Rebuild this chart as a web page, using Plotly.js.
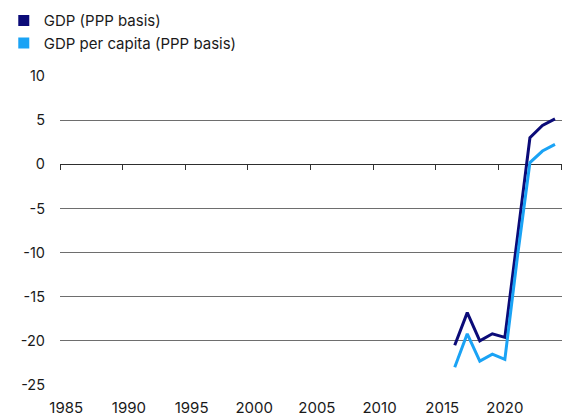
<!DOCTYPE html>
<html>
<head>
<meta charset="utf-8">
<script src="https://cdn.plot.ly/plotly-3.0.1.min.js"></script>
<style>html,body{margin:0;padding:0;background:#fff;}#chart{width:563px;height:417px;}</style>
</head>
<body>
<div id="chart"></div>
<script>
var years = [2016, 2017, 2018, 2019, 2020, 2021, 2022, 2023, 2024];
var gdpPPP = [-20.5, -16.8, -20.0, -19.2, -19.6, -8.5, 3.0, 4.4, 5.15];
var gdpPerCapitaPPP = [-23.0, -19.2, -22.3, -21.5, -22.1, -10.5, 0.2, 1.5, 2.25];
var seriesNames = ['GDP (PPP basis)', 'GDP per capita (PPP basis)'];
var seriesColors = ['#0b0b78', '#1aa3f5'];
var labelYears = [1985, 1990, 1995, 2000, 2005, 2010, 2015, 2020];
var tickBoundaries = [1984.5, 1989.5, 1994.5, 1999.5, 2004.5, 2009.5, 2014.5, 2019.5, 2024.5];
var yTicks = [-25, -20, -15, -10, -5, 0, 5, 10];

var xr = [1984.5, 2024.56];
var yr = [-25, 10];
var fam = 'Inter, "Open Sans", sans-serif';
var legendFont = {family: fam, size: 15, color: '#1a1a1a'};
var xFont = {family: fam, size: 15, color: '#1a1a1a'};
var yFont = {family: fam, size: 14.5, color: '#1a1a1a'};

var traces = [
  {x: years, y: gdpPPP, type: 'scatter', mode: 'lines', line: {color: seriesColors[0], width: 3}, showlegend: false, hoverinfo: 'skip'},
  {x: years, y: gdpPerCapitaPPP, type: 'scatter', mode: 'lines', line: {color: seriesColors[1], width: 3}, showlegend: false, hoverinfo: 'skip'},
  {x: [null], y: [null], xaxis: 'x2', type: 'scatter', mode: 'markers', name: seriesNames[0], marker: {symbol: 'square', size: 11, color: seriesColors[0]}},
  {x: [null], y: [null], xaxis: 'x2', type: 'scatter', mode: 'markers', name: seriesNames[1], marker: {symbol: 'square', size: 11, color: seriesColors[1]}}
];
var layout = {
  width: 563, height: 417,
  margin: {l: 60, r: 1, t: 76, b: 32, pad: 0},
  paper_bgcolor: '#ffffff', plot_bgcolor: '#ffffff',
  font: legendFont,
  showlegend: true,
  legend: {x: -0.112, xanchor: 'left', y: 1.232, yanchor: 'top', bgcolor: 'rgba(0,0,0,0)', font: legendFont, tracegroupgap: 0, itemclick: false},
  xaxis: {
    range: xr, tickmode: 'array', tickvals: labelYears, ticktext: labelYears.map(String),
    showgrid: false, zeroline: false, showline: false, ticks: '', ticklabelstandoff: 12,
    tickfont: xFont, fixedrange: true
  },
  xaxis2: {
    range: xr, overlaying: 'x', anchor: 'free', position: (0 - yr[0]) / (yr[1] - yr[0]), side: 'bottom',
    tickmode: 'array', tickvals: tickBoundaries, showticklabels: false,
    ticks: 'outside', ticklen: 5, tickwidth: 1, tickcolor: '#333333',
    showgrid: false, zeroline: false, showline: false, fixedrange: true
  },
  yaxis: {
    range: yr, tickmode: 'array', tickvals: yTicks, ticktext: yTicks.map(String),
    showgrid: true, gridcolor: '#6e6e6e', gridwidth: 1,
    zeroline: true, zerolinecolor: '#2e2e2e', zerolinewidth: 1,
    showline: false, ticks: '', ticklabelstandoff: 14, tickfont: yFont, fixedrange: true
  }
};
Plotly.newPlot('chart', traces, layout, {staticPlot: true, displayModeBar: false});
</script>
</body>
</html>
